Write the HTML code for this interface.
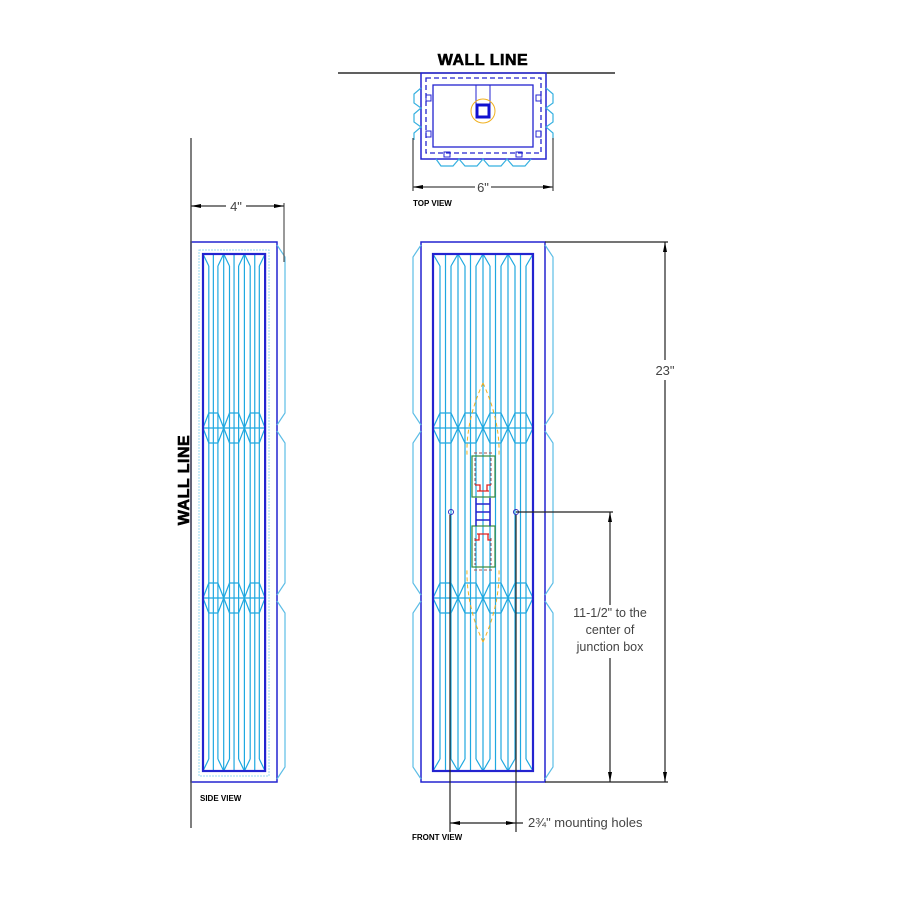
<!DOCTYPE html>
<html><head><meta charset="utf-8"><style>
html,body{margin:0;padding:0;background:#fff;}
svg{display:block}
text{font-family:"Liberation Sans",sans-serif;}
</style></head><body>
<svg id="s" width="900" height="900" viewBox="0 0 900 900" xmlns="http://www.w3.org/2000/svg">
<rect width="900" height="900" fill="#fff"/>
<g id="g"></g>
<text x="483" y="65" font-size="16" font-weight="bold" text-anchor="middle" stroke="#000" stroke-width="0.6" letter-spacing="0.5">WALL LINE</text>
<line x1="338" y1="73" x2="615" y2="73" stroke="#000" stroke-width="1.2"/>
<rect x="421" y="73" width="125" height="86" fill="none" stroke="#2424d0" stroke-width="1.5"/>
<rect x="426" y="78" width="115" height="75" fill="none" stroke="#2424d0" stroke-width="1.3" stroke-dasharray="5,3"/>
<rect x="433" y="85" width="100" height="62" fill="none" stroke="#2424d0" stroke-width="1.3"/>
<line x1="476" y1="85" x2="476" y2="104" stroke="#2424d0"/>
<line x1="490" y1="85" x2="490" y2="104" stroke="#2424d0"/>
<circle cx="483" cy="111" r="12" fill="none" stroke="#f0b020"/>
<rect x="477" y="105" width="12" height="12" fill="none" stroke="#1010d0" stroke-width="3"/>
<g fill="none" stroke="#2424d0" stroke-width="1">
<rect x="426" y="95" width="5" height="6"/><rect x="426" y="131" width="5" height="6"/>
<rect x="536" y="95" width="5" height="6"/><rect x="536" y="131" width="5" height="6"/>
<rect x="444" y="152" width="6" height="5"/><rect x="516" y="152" width="6" height="5"/>
</g>
<g fill="none" stroke="#35b0e0" stroke-width="1.2">
<path d="M421,88 L414,94 L414,103 L421,108 L414,114 L414,122 L421,127 L414,133 L414,140"/>
<path d="M546,88 L553,94 L553,103 L546,108 L553,114 L553,122 L546,127 L553,133 L553,140"/>
<path d="M436,159 L441,166 L453,166 L459,159 L465,166 L477,166 L483,159 L489,166 L501,166 L507,159 L513,166 L525,166 L531,159"/>
</g>
<g stroke="#444" stroke-width="1.2">
<line x1="413" y1="138" x2="413" y2="191"/><line x1="553" y1="138" x2="553" y2="191"/>
<line x1="413" y1="187" x2="475" y2="187"/><line x1="491" y1="187" x2="553" y2="187"/>
</g>
<path d="M413,187 l10,-2 v4z M553,187 l-10,-2 v4z" fill="#000"/>
<text x="483" y="192" font-size="13" text-anchor="middle" fill="#444">6"</text>
<text x="413" y="206" font-size="8" font-weight="bold">TOP VIEW</text>

<line x1="191" y1="138" x2="191" y2="828" stroke="#555" stroke-width="1.5"/>
<text transform="translate(189,480) rotate(-90)" font-size="16" font-weight="bold" text-anchor="middle" stroke="#000" stroke-width="0.6" letter-spacing="0.5">WALL LINE</text>
<line x1="284" y1="203" x2="284" y2="262" stroke="#555" stroke-width="1.2"/>
<line x1="191" y1="206" x2="226" y2="206" stroke="#333" stroke-width="1.2"/><line x1="246" y1="206" x2="284" y2="206" stroke="#333" stroke-width="1.2"/>
<path d="M191,206 l10,-2 v4z M284,206 l-10,-2 v4z" fill="#000"/>
<text x="236" y="211" font-size="13" text-anchor="middle" fill="#444">4"</text>
<text x="200" y="801" font-size="8" font-weight="bold">SIDE VIEW</text>

<g stroke="#222" stroke-width="1.2">
<line x1="545" y1="242" x2="668" y2="242"/>
<line x1="545" y1="782" x2="668" y2="782"/>
<line x1="665" y1="242" x2="665" y2="360"/><line x1="665" y1="380" x2="665" y2="782"/>
<line x1="516" y1="512" x2="613" y2="512"/>
<line x1="610" y1="512" x2="610" y2="605"/><line x1="610" y1="658" x2="610" y2="782"/>
<line x1="450" y1="515" x2="450" y2="832"/><line x1="516" y1="515" x2="516" y2="832"/>
<line x1="450" y1="823" x2="523" y2="823"/>
</g>
<path d="M665,242 l-2,10 h4z M665,782 l-2,-10 h4z M610,512 l-2,10 h4z M610,782 l-2,-10 h4z M450,823 l10,-2 v4z M516,823 l-10,-2 v4z" fill="#000"/>
<text x="665" y="375" font-size="13" text-anchor="middle" fill="#444">23"</text>
<text x="610" y="617" font-size="12.5" text-anchor="middle" fill="#444">11-1/2" to the</text>
<text x="610" y="634" font-size="12.5" text-anchor="middle" fill="#444">center of</text>
<text x="610" y="651" font-size="12.5" text-anchor="middle" fill="#444">junction box</text>
<text x="528" y="827" font-size="13" fill="#444">2¾" mounting holes</text>
<text x="412" y="840" font-size="8" font-weight="bold">FRONT VIEW</text>
</svg>
<script>
var g=document.getElementById('g'),h='';
function L(a,b,c,d,col,w,da){h+='<line x1="'+a+'" y1="'+b+'" x2="'+c+'" y2="'+d+'" stroke="'+col+'" stroke-width="'+(w||1.2)+'"'+(da?' stroke-dasharray="'+da+'"':'')+'/>';}
function P(d,col,w,da){h+='<path d="'+d+'" fill="none" stroke="'+col+'" stroke-width="'+(w||1.2)+'"'+(da?' stroke-dasharray="'+da+'"':'')+'/>';}
var C='#1ea8e0',C2='#5cbde6',B='#2424d0';
function panel(x0,n,w,top,bot,bands){
  for(var i=0;i<n;i++){
    var a=x0+i*w,m=a+w/2,l=a+w*0.28,r=a+w*0.72;
    L(a,top,a,bot,C);L(m,top,m,bot,C);
    L(l,top+12,l,bot-12,C);L(r,top+12,r,bot-12,C);
    P('M'+a+','+top+' L'+l+','+(top+12)+' M'+r+','+(top+12)+' L'+(a+w)+','+top,C);
    P('M'+a+','+bot+' L'+l+','+(bot-12)+' M'+r+','+(bot-12)+' L'+(a+w)+','+bot,C);
    bands.forEach(function(b){
      P('M'+a+','+b+' L'+l+','+(b-15)+' L'+r+','+(b-15)+' L'+(a+w)+','+b+' L'+r+','+(b+15)+' L'+l+','+(b+15)+'Z',C);
    });
  }
  L(x0+n*w,top,x0+n*w,bot,C);
  bands.forEach(function(b){L(x0,b,x0+n*w,b,C);});
  h+='<rect x="'+x0+'" y="'+top+'" width="'+(n*w)+'" height="'+(bot-top)+'" fill="none" stroke="'+B+'" stroke-width="2.2"/>';
}
function scallop(x,dir,top,bot,bands){
  var ys=[top].concat(bands).concat([bot]);
  for(var i=0;i<ys.length-1;i++){
    var a=ys[i],b=ys[i+1],xo=x+dir*8;
    P('M'+x+','+(a+3)+' L'+xo+','+(a+15)+' L'+xo+','+(b-15)+' L'+x+','+(b-3),C2);
  }
}
h+='<rect x="191" y="242" width="86" height="540" fill="none" stroke="'+B+'" stroke-width="1.5"/>';
h+='<rect x="199" y="250" width="70" height="526" fill="none" stroke="#9ad8f0" stroke-width="1" stroke-dasharray="2,1"/>';
panel(203,3,20.7,254,771,[428,598]);
scallop(277,1,242,782,[428,598]);
h+='<rect x="421" y="242" width="124" height="540" fill="none" stroke="'+B+'" stroke-width="1.5"/>';
panel(433,4,25,254,771,[428,598]);
scallop(421,-1,242,782,[428,598]);
scallop(545,1,242,782,[428,598]);
P('M483,383 Q466,420 467,455 M483,383 Q500,420 499,455','#f0b020',1,'4,3');
P('M483,642 Q466,605 467,568 M483,642 Q500,605 499,568','#f0b020',1,'4,3');
h+='<rect x="472" y="456" width="23" height="41" fill="none" stroke="#3a8a3a" stroke-width="1.2"/>';
h+='<rect x="472" y="526" width="23" height="41" fill="none" stroke="#3a8a3a" stroke-width="1.2"/>';
P('M474,453 H492 M475,458 V485 M491,458 V485 M475,538 V565 M491,538 V565 M474,570 H492','#a05050',1,'3,2');
P('M475,485 h5 v6 h7 v-6 h4 M477,491 h12','#e02020',1.3);
P('M475,540 h4 v-6 h9 v6 h3 M477,534 h12','#e02020',1.3);
P('M476,498 V526 M490,498 V526 M476,504 H490 M476,512 H490 M476,520 H490',B,1.5);
h+='<circle cx="451" cy="512" r="2.5" fill="none" stroke="#3030c0"/><circle cx="516" cy="512" r="2.5" fill="none" stroke="#3030c0"/>';
g.innerHTML=h;
</script>
</body></html>
